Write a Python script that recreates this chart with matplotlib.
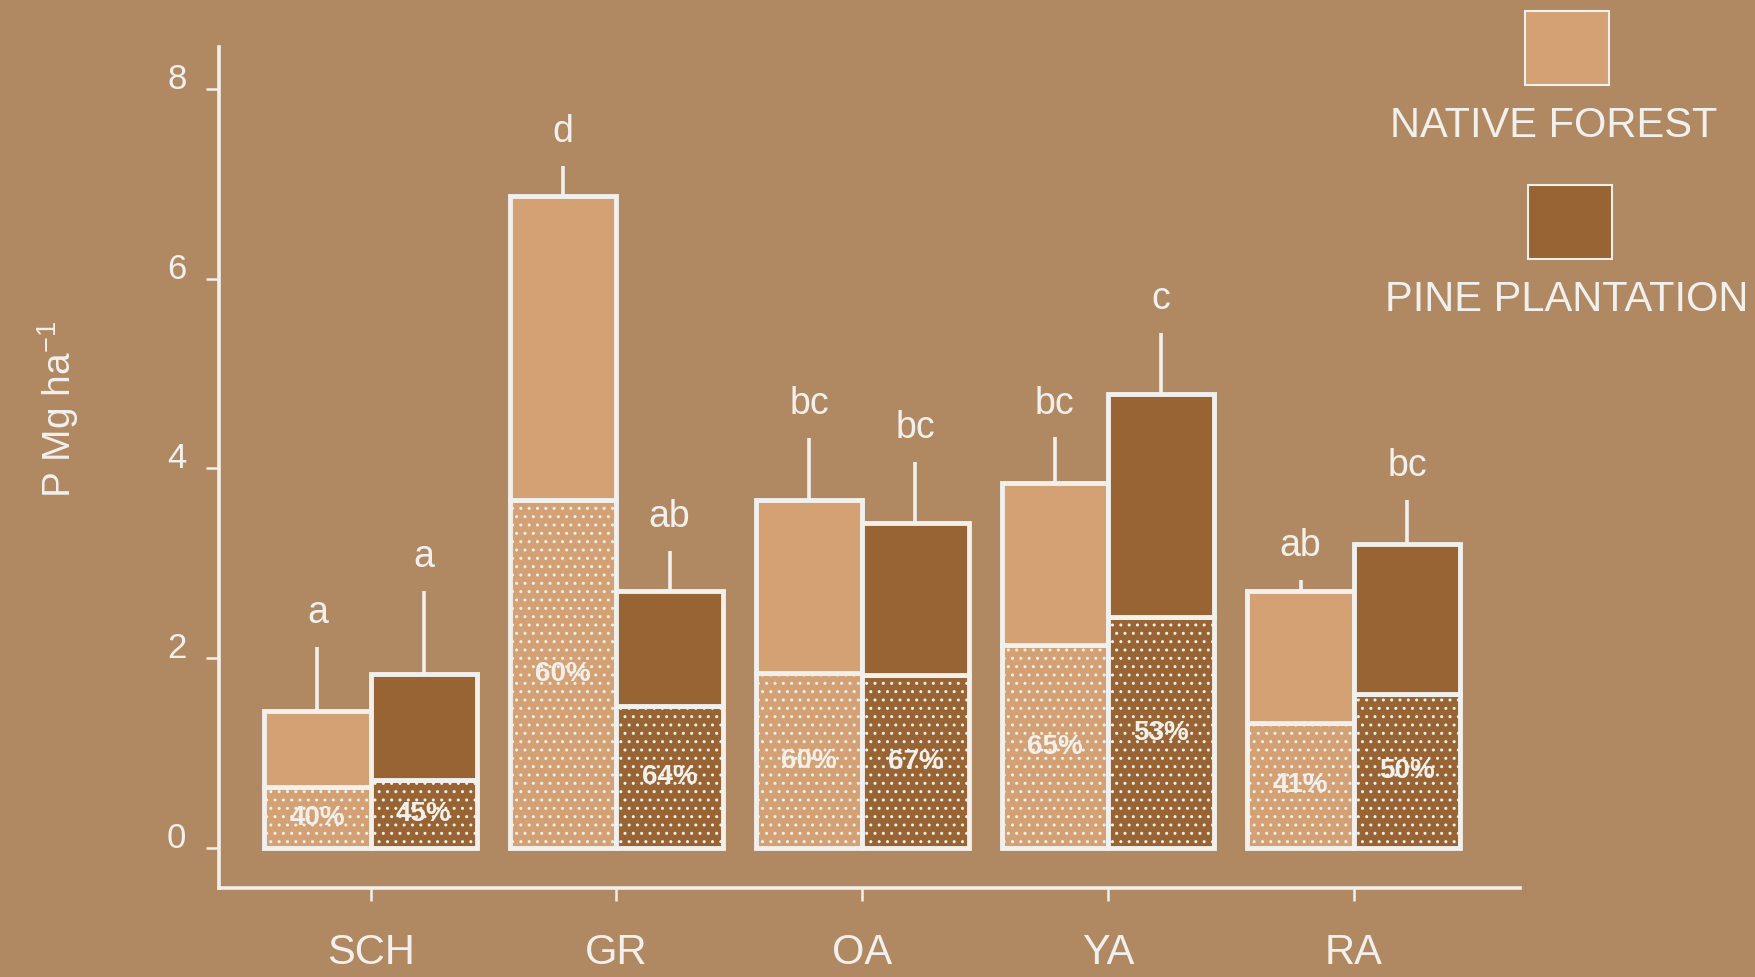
import matplotlib.pyplot as plt
from matplotlib.patches import Rectangle
from matplotlib.transforms import ScaledTranslation
import numpy as np

sites = ['SCH', 'GR', 'OA', 'YA', 'RA']

# native forest: total stock, stippled (lower) part, upper error, labels
native_total = [1.44, 6.87, 3.67, 3.85, 2.71]
native_lower = [0.64, 3.67, 1.84, 2.14, 1.32]
native_err = [0.68, 0.32, 0.65, 0.48, 0.12]
native_pct = ['40%', '60%', '60%', '65%', '41%']
native_letters = ['a', 'd', 'bc', 'bc', 'ab']

# pine plantation
pine_total = [1.83, 2.71, 3.43, 4.78, 3.20]
pine_lower = [0.72, 1.50, 1.82, 2.43, 1.62]
pine_err = [0.88, 0.42, 0.64, 0.65, 0.47]
pine_pct = ['45%', '64%', '67%', '53%', '50%']
pine_letters = ['a', 'ab', 'bc', 'c', 'bc']

yticks = [0, 2, 4, 6, 8]

BG = '#b08862'
NATIVE = '#d3a174'
PINE = '#986434'
WHITE = '#f2f0ed'

plt.rcParams['font.family'] = ['Liberation Sans', 'DejaVu Sans']
plt.rcParams['mathtext.fontset'] = 'custom'
plt.rcParams['mathtext.rm'] = 'Liberation Sans'
plt.rcParams['hatch.linewidth'] = 1.0


def draw_series(ax, xs, total, lower, err, pct, letters, color):
    total = np.array(total)
    lower = np.array(lower)
    upper = total - lower
    ax.errorbar(xs, total, yerr=[np.zeros_like(total), err], fmt='none',
                ecolor=WHITE, elinewidth=2.6, capsize=0, zorder=1)
    ax.bar(xs, lower, width=w, color=color,
           edgecolor=WHITE, linewidth=3.5, hatch='..', zorder=2)
    ax.bar(xs, upper, width=w, bottom=lower, color=color,
           edgecolor=WHITE, linewidth=3.5, zorder=2)
    for x, lo, p in zip(xs, lower, pct):
        ax.text(x, lo / 2, p, ha='center', va='center', color=WHITE,
                fontsize=20, fontweight='bold', zorder=3)
    for x, t, e, s in zip(xs, total, err, letters):
        ax.annotate(s, (x, t + e), xytext=(0, 17), textcoords='offset points',
                    ha='center', va='baseline', color=WHITE, fontsize=27)


fig = plt.figure(figsize=(17.56, 9.77), dpi=100)
fig.patch.set_facecolor(BG)
ax = fig.add_axes([0.1247, 0.0911, 0.8656 - 0.1247, 0.9519 - 0.0911])
ax.set_facecolor(BG)

x = np.arange(len(sites))
w = 0.433
draw_series(ax, x - w / 2, native_total, native_lower, native_err,
            native_pct, native_letters, NATIVE)
draw_series(ax, x + w / 2, pine_total, pine_lower, pine_err,
            pine_pct, pine_letters, PINE)

ax.set_xlim(-0.617, 4.676)
ax.set_ylim(-0.42, 8.44)
ax.set_xticks(x)
ax.set_xticklabels(sites)
ax.set_yticks(yticks)
ax.set_yticklabels([str(t) for t in yticks])

for side in ['top', 'right']:
    ax.spines[side].set_visible(False)
for side in ['left', 'bottom']:
    ax.spines[side].set_color(WHITE)
    ax.spines[side].set_linewidth(2.6)

ax.tick_params(axis='both', colors=WHITE, width=1.8, length=9.4, direction='out')
ax.tick_params(axis='x', labelsize=30, pad=23)
ax.tick_params(axis='y', labelsize=25, pad=14)

# y labels sit a little above their ticks
shift = ScaledTranslation(0, 0.13, fig.dpi_scale_trans)
for lab in ax.get_yticklabels():
    lab.set_transform(lab.get_transform() + shift)

fig.text(58 / 1756, 1 - 410 / 977, r'P Mg ha$^{\mathregular{-1}}$', rotation=90,
         ha='center', va='center', color=WHITE, fontsize=28)

# legend boxes with their names underneath
fig.add_artist(Rectangle((1525 / 1756, 1 - 85 / 977), 84 / 1756, 74 / 977,
                         transform=fig.transFigure, facecolor=NATIVE,
                         edgecolor=WHITE, linewidth=1.5))
fig.add_artist(Rectangle((1528 / 1756, 1 - 259 / 977), 84 / 1756, 74 / 977,
                         transform=fig.transFigure, facecolor=PINE,
                         edgecolor=WHITE, linewidth=1.5))
fig.text(1554 / 1756, 1 - 126 / 977, 'NATIVE FOREST', ha='center', va='center',
         color=WHITE, fontsize=30)
fig.text(1567 / 1756, 1 - 300 / 977, 'PINE PLANTATION', ha='center', va='center',
         color=WHITE, fontsize=30)

fig.savefig('out.png', dpi=100, facecolor=BG)
